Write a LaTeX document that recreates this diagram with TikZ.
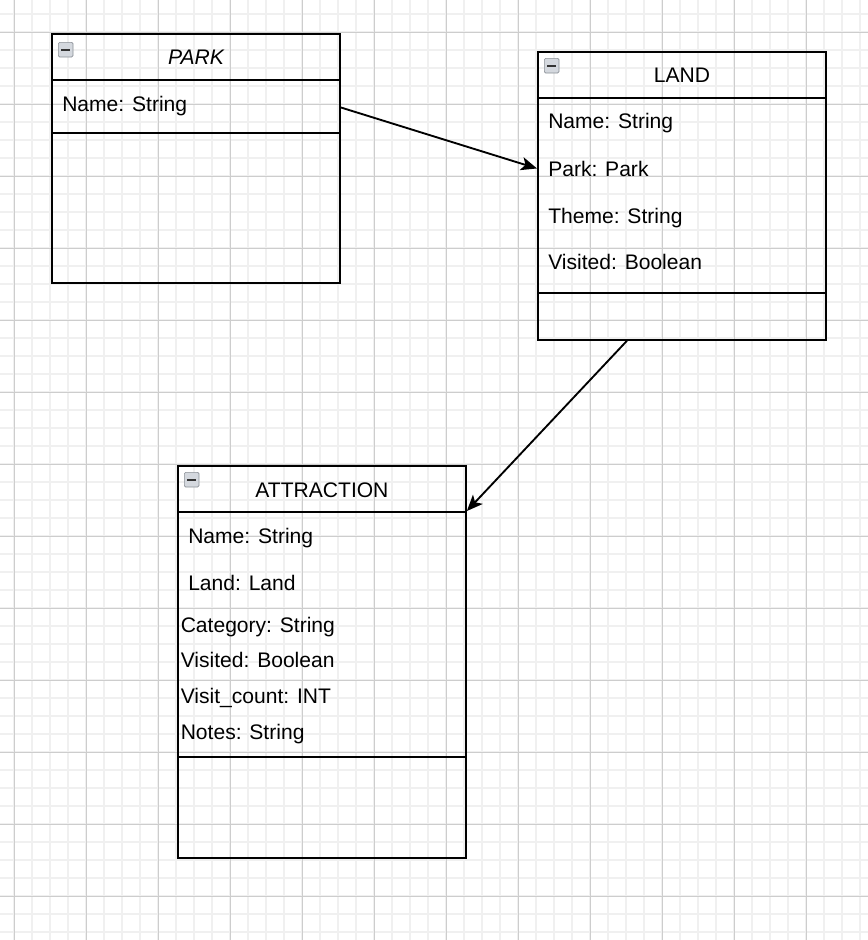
\documentclass[tikz,border=0pt]{standalone}
\usepackage{fontspec}
\setmainfont{Liberation Sans}
\usetikzlibrary{positioning}
\usetikzlibrary{arrows.meta}
\usetikzlibrary{calc}

\definecolor{gridminor}{HTML}{F0F0F0}
\definecolor{gridmajor}{HTML}{CDCDCD}
\definecolor{iconfill}{HTML}{D4D8DE}
\definecolor{iconedge}{HTML}{8A8F96}

\tikzset{
  classbox/.style={draw, line width=1.4pt, minimum width=216pt, inner sep=0pt, anchor=north west},
  classline/.style={line width=1.4pt},
  classname/.style={inner sep=0pt, anchor=base, font=\fontsize{15.8}{19}\selectfont},
  attr/.style={inner sep=0pt, anchor=base west, font=\fontsize{15.8}{19}\selectfont},
  foldicon/.style={draw=iconedge, fill=iconfill, rounded corners=1pt, line width=0.5pt,
    minimum size=11pt, inner sep=0pt, anchor=north west},
  link/.style={line width=1.4pt, -{Stealth[length=12pt, width=10pt, inset=3pt]}}
}

\begin{document}
\begin{tikzpicture}[x=0.75pt, y=-0.75pt]
  \useasboundingbox (0,0) rectangle (868,940);
  \fill[white] (0,0) rectangle (868,940);

  % background grid
  \foreach \gx in {14,32,...,866} \draw[gridminor, line width=1.1pt] (\gx,0) -- (\gx,940);
  \foreach \gy in {14,32,...,938} \draw[gridminor, line width=1.1pt] (0,\gy) -- (868,\gy);
  \foreach \gx in {14,86,...,866} \draw[gridmajor, line width=0.75pt] (\gx,0) -- (\gx,940);
  \foreach \gy in {32,104,...,938} \draw[gridmajor, line width=0.75pt] (0,\gy) -- (868,\gy);

  % PARK
  \node[classbox, minimum height=186.75pt] (park) at (51,33) {};
  \draw[classline] ($(park.north west)+(0,47)$) -- ($(park.north east)+(0,47)$);
  \draw[classline] ($(park.north west)+(0,100)$) -- ($(park.north east)+(0,100)$);
  \node[foldicon] (parkicon) at ($(park.north west)+(7,9)$) {};
  \draw[black!80, line width=1.5pt] ($(parkicon.west)+(3,0)$) -- ($(parkicon.east)+(-3,0)$);
  \node[classname] (parktitle) at ($(park.north)+(0,31.5)$) {\itshape PARK};
  \node[attr] (parkname) at (62,111) {Name: String};

  % LAND
  \node[classbox, minimum height=216pt] (land) at (537,51) {};
  \draw[classline] ($(land.north west)+(0,47)$) -- ($(land.north east)+(0,47)$);
  \draw[classline] ($(land.north west)+(0,242)$) -- ($(land.north east)+(0,242)$);
  \node[foldicon] (landicon) at ($(land.north west)+(7,7)$) {};
  \draw[black!80, line width=1.5pt] ($(landicon.west)+(3,0)$) -- ($(landicon.east)+(-3,0)$);
  \node[classname] (landtitle) at ($(land.north)+(0,31.5)$) {LAND};
  \node[attr] (landname) at (548,128.5) {Name: String};
  \node[attr] (landpark) at (548,176) {Park: Park};
  \node[attr] (landtheme) at (548,223) {Theme: String};
  \node[attr] (landvisited) at (548,269) {Visited: Boolean};

  % ATTRACTION
  \node[classbox, minimum height=294pt] (attraction) at (177,465) {};
  \draw[classline] ($(attraction.north west)+(0,47)$) -- ($(attraction.north east)+(0,47)$);
  \draw[classline] ($(attraction.north west)+(0,292)$) -- ($(attraction.north east)+(0,292)$);
  \node[foldicon] (attricon) at ($(attraction.north west)+(7,7)$) {};
  \draw[black!80, line width=1.5pt] ($(attricon.west)+(3,0)$) -- ($(attricon.east)+(-3,0)$);
  \node[classname] (attrtitle) at ($(attraction.north)+(0,32)$) {ATTRACTION};
  \node[attr] (attrname) at (188,543.5) {Name: String};
  \node[attr] (attrland) at (188,590) {Land: Land};
  \node[attr] (attrcategory) at (180.5,632) {Category: String};
  \node[attr] (attrvisited) at (180.5,667.5) {Visited: Boolean};
  \node[attr] (attrcount) at (180.5,703.5) {Visit\_count: INT};
  \node[attr] (attrnotes) at (180.5,739.5) {Notes: String};

  % links
  \draw[link] (park.east |- parkname.mid) -- (land.west |- landpark.center);
  \draw[link] ($(land.south west)!0.31!(land.south east)$) -- ($(attraction.north east)+(0,46)$);
\end{tikzpicture}
\end{document}
